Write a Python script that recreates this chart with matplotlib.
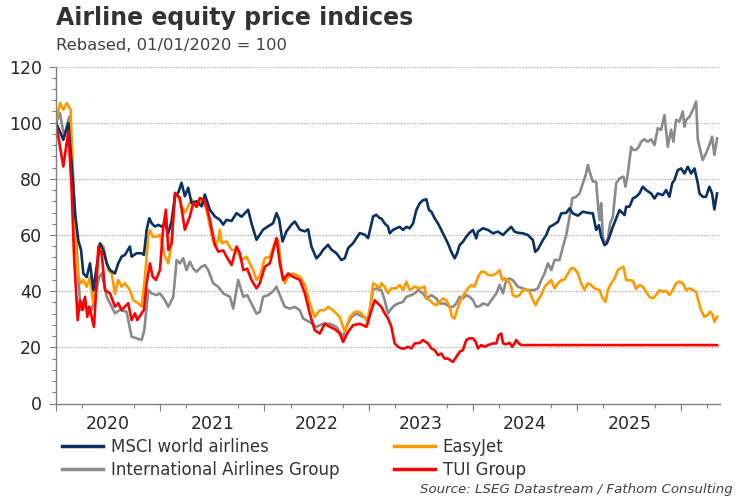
import numpy as np
import matplotlib
matplotlib.use("Agg")
import matplotlib.pyplot as plt
from matplotlib.ticker import MultipleLocator, FixedLocator

plt.rcParams['font.family'] = ['DejaVu Sans']

# ---- data: time in years since 01/01/2020, values rebased (01/01/2020 = 100)
msci_t = [0, 0.070, 0.118, 0.150, 0.182, 0.214, 0.240, 0.262, 0.294, 0.326, 0.358, 0.390, 0.422, 0.454, 0.486,
          0.518, 0.565, 0.597, 0.629, 0.661, 0.709, 0.725, 0.773, 0.821, 0.843, 0.869, 0.895, 0.917, 0.949, 0.981,
          1.013, 1.045, 1.077,
          1.109, 1.141, 1.172, 1.204, 1.236, 1.268, 1.300, 1.348, 1.396, 1.428, 1.476, 1.524, 1.572, 1.604, 1.636,
          1.684, 1.732, 1.780, 1.843, 1.875, 1.923, 1.955, 1.987, 2.035, 2.083, 2.115, 2.141, 2.173, 2.211, 2.259,
          2.291, 2.339, 2.387, 2.419, 2.450, 2.498, 2.530, 2.562, 2.610, 2.642, 2.690, 2.738, 2.770, 2.802, 2.850,
          2.914, 2.962, 2.994, 3.042, 3.073, 3.105,
          3.121, 3.153, 3.185, 3.201,
          3.233, 3.265, 3.297, 3.329, 3.361, 3.393, 3.425, 3.457, 3.489, 3.521, 3.553, 3.578, 3.601, 3.633, 3.665,
          3.696, 3.728, 3.760, 3.792, 3.824, 3.847, 3.872, 3.904, 3.936, 3.968, 4.000, 4.032, 4.048, 4.096, 4.144,
          4.192, 4.240, 4.288, 4.319, 4.367, 4.399, 4.431, 4.479, 4.527, 4.575, 4.597, 4.623, 4.671, 4.703, 4.735,
          4.767, 4.815, 4.847, 4.895, 4.927, 4.958, 5.006, 5.054, 5.102, 5.150, 5.182, 5.208, 5.230, 5.262, 5.284,
          5.310, 5.342, 5.374, 5.406, 5.454, 5.470, 5.502, 5.534, 5.565, 5.597, 5.629, 5.661, 5.709, 5.741, 5.773,
          5.821, 5.853, 5.885, 5.911, 5.933, 5.965, 5.997, 6.029, 6.061, 6.093, 6.125, 6.157, 6.173, 6.204, 6.236,
          6.268, 6.294, 6.316, 6.342]
msci_v = [100, 93.9, 99.8, 85, 68, 58, 54.7, 46.3, 45, 49.9, 40.4, 48.7, 57, 54.7, 49.9,
          47.5, 46.3, 49.9, 52.3, 52.9, 55.9, 52.3, 53.5, 53.5, 52.9, 61.8, 66, 64.2, 63, 63.6,
          63, 64.2, 60.6,
          65, 73.8, 75, 78.6, 73.8, 76.8, 71.4, 72, 70.2, 74.4, 69, 66.6, 65.4, 63.7, 65.4,
          65, 67.8, 66.5, 69, 64.2, 58.3, 60.1, 61.9, 63.1, 64.2, 67.8, 65.5, 57.7, 61.3, 63.7,
          64.8, 61.9, 61.3, 62, 55.9, 51.7, 52.9, 54.7, 56.5, 54.8, 53.5, 51.1, 51.7, 55.3, 57.1,
          60.7, 60.1, 58.9, 66.6, 67.2, 66,
          65.9, 64.1, 63, 60.6,
          61.8, 62.4, 62.9, 61.8, 62.9, 62.4, 64.1, 68.9, 71.3, 72.4, 72.7, 68.9, 68.3, 65.9, 64.1,
          61.8, 59.4, 57, 54, 51.7, 53.4, 56.4, 57.6, 59.4, 60.8, 61.8, 58.8, 61.2, 62.4, 61.8,
          60.6, 61.2, 60, 61.2, 62.9, 61.2, 60.8, 60.6, 60, 58.2, 54, 54.9, 58.2, 60, 62.9,
          63.5, 64.7, 67.7, 67.9, 69.5, 67.7, 66.9, 68.3, 67.9, 67.7, 61.8, 63.5, 59.4, 56.4, 57,
          59.4, 62.9, 65.9, 68.9, 67.1, 70.1, 70.1, 73, 73.6, 74.8, 77.2, 76, 74.8, 73, 74.8,
          74.2, 76, 73.6, 78.4, 79.6, 83.1, 83.7, 81.9, 84.3, 81.9, 83.7, 78.4, 74.8, 73.6, 73.6,
          77.2, 74.8, 69.1, 74.8]

iag_t = [0, 0.038, 0.077, 0.128, 0.150, 0.182, 0.214, 0.236, 0.262, 0.310, 0.342, 0.358, 0.415, 0.438, 0.486,
         0.518, 0.565, 0.613, 0.677, 0.725, 0.773, 0.821, 0.847, 0.885, 0.917, 0.965,
         0.997, 1.045, 1.077, 1.125, 1.157, 1.188, 1.220, 1.252, 1.284, 1.316, 1.348, 1.396, 1.428, 1.460, 1.508,
         1.556, 1.604, 1.668, 1.700, 1.748, 1.796, 1.834, 1.875, 1.923, 1.955, 1.987, 2.035, 2.083, 2.115, 2.147,
         2.195, 2.243, 2.291, 2.339, 2.371, 2.435, 2.498, 2.562, 2.626, 2.690, 2.754, 2.786, 2.834, 2.882, 2.946,
         2.994, 3.042, 3.073, 3.105,
         3.121, 3.153,
         3.185, 3.217, 3.249, 3.281, 3.329, 3.361, 3.409, 3.441, 3.473, 3.521, 3.553, 3.601, 3.649, 3.681, 3.728,
         3.776, 3.808, 3.840, 3.872, 3.904, 3.936, 3.968, 4.000, 4.032, 4.064, 4.096, 4.144, 4.176, 4.224, 4.256,
         4.288, 4.319, 4.351, 4.383, 4.431, 4.479, 4.527, 4.559, 4.591, 4.623, 4.655, 4.687, 4.719, 4.751, 4.783,
         4.831, 4.863, 4.895, 4.927, 4.952, 4.990, 5.022, 5.054, 5.086, 5.102, 5.125, 5.150, 5.182, 5.198, 5.214,
         5.230, 5.246, 5.265, 5.294, 5.316, 5.342, 5.374, 5.406, 5.444, 5.463, 5.486, 5.518, 5.534, 5.565, 5.591,
         5.613, 5.645, 5.677, 5.709, 5.741, 5.773, 5.805, 5.837, 5.869, 5.901, 5.923, 5.949, 5.981, 6.013, 6.029,
         6.045, 6.077, 6.109, 6.141, 6.157, 6.173, 6.204, 6.236, 6.268, 6.294, 6.316, 6.342]
iag_v = [100, 103.4, 95.1, 102.2, 92, 68, 45, 33.3, 36.8, 32.1, 33.3, 35.7, 45.2, 46.3, 38,
         35.7, 32.1, 33.3, 32.7, 23.8, 23.2, 22.6, 26.1, 40.4, 39.2, 38.6,
         39.2, 36.8, 34.4, 38, 51.1, 49.9, 51.7, 47.5, 50.5, 48.1, 46.9, 48.7, 49.3, 47.5, 42.8,
         41.6, 39.2, 38, 33.8, 44, 38, 38.6, 35.6, 32, 32.6, 38, 38.6, 40, 41.6, 38.6,
         34.4, 33.8, 34.4, 33.2, 30.2, 29, 27.3, 28.4, 28.4, 27.3, 23.7, 27.3, 30.8, 32, 30.8,
         30.2, 40.4, 41, 40.4,
         40.4, 36.8,
         32.1, 33.8, 35, 35.6, 36.2, 38, 38.6, 39.2, 40.4, 39.2, 37.4, 38.6, 37.4, 35.6, 35.6,
         34.4, 34.4, 35.6, 38, 37.4, 38.6, 38, 36.8, 34.4, 34.7, 35.6, 35, 36.8, 39.2, 42.2,
         39.2, 43.9, 44.5, 43.9, 41.6, 41, 40.4, 40.4, 40.4, 41, 43.9, 46.3, 49.9, 47.5, 51.1,
         51.1, 55.8, 60, 66.5, 73, 73.6, 74.8, 78.4, 81.9, 84.9, 81.9, 79, 79, 71.3, 65.3,
         71.3, 59.4, 56.4, 58.8, 64.1, 66.5, 78.4, 80.2, 80.8, 77.2, 81.9, 91.4, 90.3, 90.3, 91.4,
         93.2, 94.1, 93.2, 94.1, 92, 98, 97.4, 102.7, 91.4, 97.5, 93.2, 101, 100.4, 104, 98.6,
         101, 102.1, 104.5, 107.5, 94.1, 91.4, 86.7, 89.1, 92, 95, 88.5, 94.4]

ezj_t = [0, 0.038, 0.070, 0.102, 0.141, 0.160, 0.182, 0.214, 0.240, 0.262, 0.294, 0.326, 0.358, 0.422, 0.454,
         0.502, 0.534, 0.565, 0.597, 0.629, 0.661, 0.709, 0.741, 0.789, 0.821, 0.853, 0.885, 0.901, 0.927, 0.958,
         0.997, 1.045, 1.077, 1.109, 1.141, 1.172, 1.204, 1.236, 1.268, 1.300, 1.348, 1.396, 1.444, 1.492, 1.524,
         1.556, 1.572, 1.588, 1.636, 1.684, 1.732, 1.780, 1.827, 1.859, 1.891, 1.923, 1.955, 2.003, 2.051, 2.099,
         2.131, 2.163, 2.195, 2.227, 2.275, 2.339, 2.387, 2.435, 2.482, 2.530, 2.578, 2.610, 2.658, 2.722, 2.770,
         2.818, 2.866, 2.914, 2.962, 2.994, 3.042, 3.073, 3.105,
         3.121, 3.153, 3.185, 3.217, 3.265, 3.297, 3.329, 3.361, 3.393, 3.441, 3.489, 3.537, 3.553, 3.585,
         3.617, 3.649, 3.681, 3.712, 3.744, 3.776, 3.799, 3.824, 3.847, 3.888, 3.920, 3.952, 3.984, 4.016, 4.048,
         4.080, 4.112, 4.144, 4.192, 4.224, 4.256, 4.281, 4.304, 4.335, 4.367, 4.383, 4.415, 4.447, 4.479, 4.511,
         4.543, 4.575, 4.601, 4.623, 4.655, 4.687, 4.719, 4.751, 4.783, 4.815, 4.847, 4.879, 4.911, 4.942, 4.974,
         5.006, 5.038, 5.070, 5.102, 5.134, 5.166, 5.214, 5.246, 5.272, 5.294, 5.326, 5.358, 5.390, 5.412, 5.444,
         5.470, 5.502, 5.534, 5.565, 5.597, 5.629, 5.661, 5.693, 5.725, 5.757, 5.789, 5.821, 5.853, 5.885, 5.917,
         5.949, 5.981, 6.013, 6.045, 6.077, 6.109, 6.141, 6.157, 6.188, 6.220, 6.252, 6.275, 6.300, 6.316, 6.342]
ezj_v = [100, 107, 104.6, 107, 104.6, 80, 60, 45.2, 42.8, 44, 41.6, 45, 35.7, 57, 55.9,
         47.5, 46.3, 39, 44, 41.6, 42.8, 40.4, 36.8, 35.7, 34.5, 45, 59.4, 61.8, 59.4, 59.4,
         60, 52.3, 49.9, 57.1, 74.4, 73.8, 70.2, 67.8, 70.2, 72.6, 70.2, 72.6, 69, 60, 55.9,
         58.3, 61.9, 57.1, 57.7, 54.7, 54.7, 51.1, 52.3, 49.9, 47.5, 44, 45.2, 51.7, 52.3, 57.1,
         58.3, 47.5, 42.8, 45.2, 46.3, 45.2, 42.2, 35.6, 30.8, 33.2, 33.2, 34.4, 33.2, 30.8, 25.5,
         30.8, 32.6, 32.6, 30.8, 28.4, 42.8, 42.2, 41,
         42.8, 41.6, 39.2, 41, 41, 42.2, 40.4, 43.4, 40.4, 41.6, 41, 41.6, 37.4, 36.8,
         35.6, 35, 36.2, 37.4, 36.8, 34.4, 30.9, 30.3, 33.3, 37.4, 39.2, 41, 42.2, 41.6, 45.1,
         46.9, 46.9, 45.7, 45.7, 46.3, 47.5, 43.9, 44.5, 43.9, 41.6, 38.6, 38, 38.6, 40.4, 40.6,
         39.8, 36.8, 35, 36.8, 38.6, 41.6, 42.8, 43.9, 41, 42.8, 43.9, 44.2, 46.3, 48.1, 48.1,
         46.3, 42.8, 40.4, 42.8, 42.2, 41, 40.4, 37.4, 36.2, 40.4, 42.8, 44.5, 47.5, 48.1, 48.7,
         43.9, 43.9, 43.7, 40.8, 42.2, 41.6, 39.8, 38, 37.4, 38.6, 40.4, 39.8, 40.1, 38.6, 40.4,
         42.8, 43.4, 42.8, 40.4, 41, 40.4, 39.8, 37.4, 33.3, 30.9, 31.5, 32.7, 31.5, 29.1, 30.9]

tui_t = [0, 0.070, 0.118, 0.150, 0.173, 0.208, 0.230, 0.256, 0.278, 0.300, 0.319, 0.364, 0.383, 0.406, 0.438,
         0.470, 0.518, 0.565, 0.597, 0.629, 0.661, 0.693, 0.725, 0.757, 0.780, 0.821, 0.843, 0.869, 0.901, 0.927,
         0.958, 0.997, 1.029, 1.054, 1.077, 1.109, 1.141, 1.188, 1.236, 1.284, 1.316, 1.348, 1.380, 1.419, 1.444,
         1.476, 1.524, 1.556, 1.604, 1.636, 1.684, 1.732, 1.764, 1.796, 1.834, 1.875, 1.923, 1.955, 2.003, 2.051,
         2.115, 2.147, 2.179, 2.227, 2.275, 2.339, 2.387, 2.435, 2.482, 2.530, 2.578, 2.626, 2.674, 2.722, 2.754,
         2.802, 2.850, 2.914, 2.978, 3.026, 3.058, 3.089,
         3.121, 3.153, 3.185, 3.217, 3.249,
         3.281, 3.313, 3.345, 3.377, 3.409, 3.441, 3.489, 3.521, 3.569, 3.601, 3.633, 3.665, 3.696, 3.728, 3.760,
         3.808, 3.840, 3.872, 3.904, 3.936, 3.968, 4.000, 4.026, 4.048, 4.080, 4.112, 4.144, 4.192, 4.224, 4.246,
         4.272, 4.288, 4.319, 4.351, 4.377, 4.399, 4.415, 4.441, 4.463, 6.342]
tui_v = [100, 84.4, 96.9, 76.1, 52.3, 29.7, 36.8, 33.3, 38, 30.9, 34.5, 27.3, 39.2, 55.9, 53.5,
         40.4, 39.2, 34.5, 35.7, 33.3, 34.5, 35.7, 29.7, 32.1, 29.7, 32.1, 33.3, 42.8, 49.9, 45.2,
         44, 47.5, 63, 69, 54.7, 57.1, 75, 73.2, 61.9, 66.6, 71.4, 70, 73.2, 72.5, 70.2,
         65.4, 56.5, 54.1, 54.5, 52.3, 49.3, 55.9, 53.5, 47.5, 48, 44, 41, 42.8, 48.7, 49.9,
         58.9, 49.9, 44, 46.3, 45.1, 44, 39.2, 32, 26.1, 24.9, 28.4, 27.3, 26.5, 24.9, 21.9,
         25.5, 27.9, 28.4, 27.3, 33.2, 36.8, 35.6,
         34.4, 32.1, 30.3, 27.3, 21.4,
         20.2, 19.6, 19.6, 20.2, 19.6, 21.4, 21.6, 22.6, 21.4, 19.6, 19, 17.2, 17.8, 16, 16,
         14.8, 16.6, 18.4, 19, 22.6, 23.2, 23.2, 22, 19.6, 20.8, 20.2, 20.8, 21.4, 21.4, 24.3,
         24.9, 21.4, 21.1, 21.6, 20.2, 21.4, 22.6, 21.4, 20.8, 20.8]

series_names = ["MSCI world airlines", "International Airlines Group", "EasyJet", "TUI Group"]
series_colors = ["#0a3161", "#8a8a8a", "#ff9900", "#ff0000"]
year_labels = ["2020", "2021", "2022", "2023", "2024", "2025"]
y_ticks = [0, 20, 40, 60, 80, 100, 120]

fig = plt.figure(figsize=(7.5, 5), dpi=100)
ax = fig.add_axes([0.0747, 0.193, 0.8853, 0.674])

data = [(msci_t, msci_v), (iag_t, iag_v), (ezj_t, ezj_v), (tui_t, tui_v)]
order = [1, 2, 0, 3]
lines = {}
for i in order:
    t, v = data[i]
    ln, = ax.plot(t, v, color=series_colors[i], lw=1.9, solid_joinstyle='round', label=series_names[i])
    lines[i] = ln

ax.set_xlim(0, 6.37)
ax.set_ylim(0, 120)

ax.set_yticks(y_ticks)
ax.yaxis.set_minor_locator(MultipleLocator(4))
ax.tick_params(axis='y', which='major', direction='out', length=5, width=0.8, color='#808080',
               labelsize=12.5, labelcolor='#262626', pad=5)
ax.tick_params(axis='y', which='minor', direction='out', length=3, width=0.8, color='#808080')
for yv in y_ticks[1:]:
    ax.axhline(yv, color='#9a9a9a', lw=0.8, ls=(0, (1, 1.5)), zorder=0)

ax.set_xticks(np.arange(len(year_labels)) + 0.5)
ax.set_xticklabels(year_labels)
ax.tick_params(axis='x', which='major', length=0, labelsize=12.5, labelcolor='#262626', pad=8)
ax.xaxis.set_minor_locator(FixedLocator(np.arange(0, 6.37, 0.25)))
ax.tick_params(axis='x', which='minor', direction='out', length=3, width=0.8, color='#808080')
sec = ax.secondary_xaxis('bottom')
sec.set_xticks(np.arange(0, 7))
sec.set_xticklabels([])
sec.tick_params(axis='x', direction='out', length=5, width=0.8, color='#808080')
sec.spines['bottom'].set_visible(False)

for s in ['top', 'right']:
    ax.spines[s].set_visible(False)
for s in ['left', 'bottom']:
    ax.spines[s].set_color('#808080')
    ax.spines[s].set_linewidth(1.0)

handles = [lines[0], lines[1], lines[2], lines[3]]
leg = fig.legend(handles, series_names, ncol=2, loc='upper left', frameon=False, fontsize=12,
                 handlelength=2.45, handletextpad=0.48, columnspacing=3.27,
                 labelspacing=0.3, borderaxespad=0)
leg.set_bbox_to_anchor((0.074, 0.138), transform=fig.transFigure)
for txt in leg.get_texts():
    txt.set_color('#333333')
for lh in leg.get_lines():
    lh.set_linewidth(2.5)

fig.text(0.0747, 0.95, "Airline equity price indices", fontsize=17, fontweight='bold',
         color='#333333', ha='left', va='baseline')
fig.text(0.0747, 0.90, "Rebased, 01/01/2020 = 100", fontsize=11.8, color='#404040',
         ha='left', va='baseline')
fig.text(0.977, 0.013, "Source: LSEG Datastream / Fathom Consulting", fontsize=9.6, style='italic',
         color='#404040', ha='right', va='baseline')

fig.savefig("out.png", dpi=100)
